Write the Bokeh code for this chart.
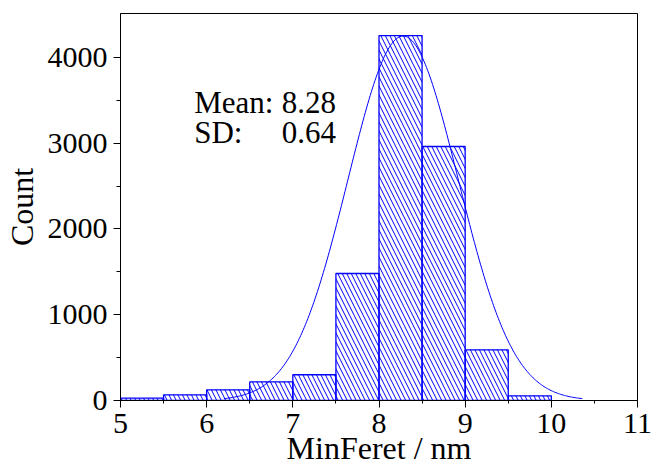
import numpy as np
from bokeh.plotting import figure
from bokeh.models import Label, Range1d, FixedTicker
from bokeh.embed import file_html
from bokeh.resources import INLINE

# Histogram data (bin edges and counts)
bin_left = [5.0, 5.5, 6.0, 6.5, 7.0, 7.5, 8.0, 8.5, 9.0, 9.5]
bin_right = [5.5, 6.0, 6.5, 7.0, 7.5, 8.0, 8.5, 9.0, 9.5, 10.0]
counts = [27, 66, 125, 218, 300, 1481, 4255, 2962, 591, 55]

# Gaussian fit parameters (as printed on the chart)
MEAN = 8.28
SD = 0.64
AMPLITUDE = 4250
FIT_START = 6.2
FIT_END = 10.36

x_ticks = [5, 6, 7, 8, 9, 10, 11]
x_minor = [5.5, 6.5, 7.5, 8.5, 9.5, 10.5]
y_ticks = [0, 1000, 2000, 3000, 4000]
y_minor = [500, 1500, 2500, 3500]

X_LABEL = "MinFeret / nm"
Y_LABEL = "Count"

FONT = "Liberation Serif"
BLUE = "#0000FF"
Y_MAX = 4513

p = figure(width=652, height=468, output_backend="svg", toolbar_location=None,
           x_range=Range1d(5, 11), y_range=Range1d(0, Y_MAX),
           min_border_left=119, min_border_right=15,
           min_border_top=13, min_border_bottom=68)

p.quad(left=bin_left, right=bin_right, top=counts, bottom=0,
       fill_color=None, line_color=BLUE, line_width=1.3,
       hatch_pattern="\\", hatch_color=BLUE, hatch_scale=9, hatch_weight=1)

fx = np.linspace(FIT_START, FIT_END, 300)
fy = AMPLITUDE * np.exp(-(fx - MEAN) ** 2 / (2 * SD ** 2))
p.line(fx, fy, line_color=BLUE, line_width=1)

p.grid.visible = False
p.outline_line_color = "black"
p.outline_line_width = 1
p.background_fill_color = "white"
p.border_fill_color = "white"

p.xaxis.ticker = FixedTicker(ticks=x_ticks, minor_ticks=x_minor)
p.yaxis.ticker = FixedTicker(ticks=y_ticks, minor_ticks=y_minor)

for ax in (p.xaxis[0], p.yaxis[0]):
    ax.axis_line_color = "black"
    ax.axis_line_width = 1
    ax.major_tick_line_color = "black"
    ax.minor_tick_line_color = "black"
    ax.major_tick_out = 7
    ax.major_tick_in = 0
    ax.minor_tick_out = 4
    ax.minor_tick_in = 0
    ax.major_label_text_font = FONT
    ax.major_label_text_font_size = "30px"
    ax.major_label_text_color = "black"
    ax.axis_label_text_font = FONT
    ax.axis_label_text_font_size = "32px"
    ax.axis_label_text_font_style = "normal"
    ax.axis_label_text_color = "black"

p.xaxis.minor_tick_out = 3
p.xaxis.axis_label = X_LABEL
p.yaxis.axis_label = Y_LABEL
p.xaxis.major_label_standoff = 6
p.xaxis.axis_label_standoff = -6
p.yaxis.major_label_standoff = 6
p.yaxis.axis_label_standoff = 5

for txt, xx, yy in [("Mean:", 5.855, 3479), ("8.28", 6.87, 3479),
                    ("SD:", 5.855, 3129), ("0.64", 6.87, 3129)]:
    p.add_layout(Label(x=xx, y=yy, text=txt, text_font=FONT,
                       text_font_size="31px", text_color="black",
                       text_baseline="alphabetic", text_align="left"))

open("out.html", "w").write(file_html(p, INLINE))
